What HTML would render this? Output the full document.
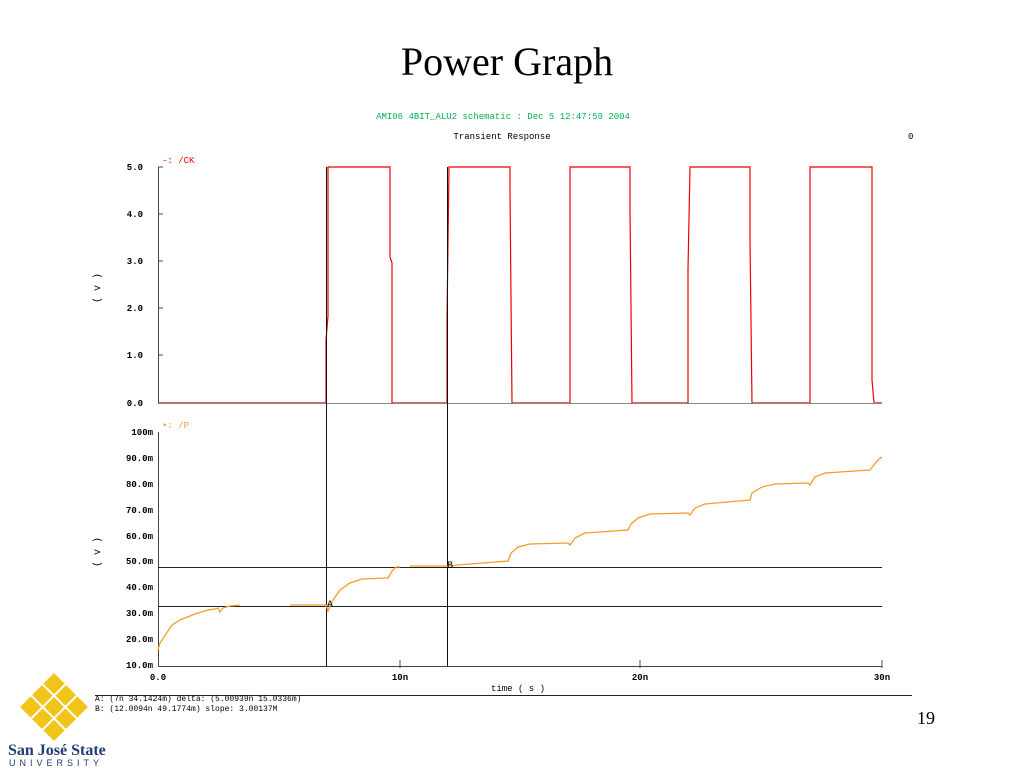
<!DOCTYPE html>
<html><head><meta charset="utf-8"><style>
html,body{margin:0;padding:0;background:#fff;width:1024px;height:768px;overflow:hidden}
</style></head><body>
<svg width="1024" height="768" viewBox="0 0 1024 768" xmlns="http://www.w3.org/2000/svg" font-family="Liberation Mono, monospace">
<text x="507" y="75" text-anchor="middle" font-family="Liberation Serif, serif" font-size="40">Power Graph</text>
<text x="503" y="119" text-anchor="middle" font-size="9" fill="#00b050">AMI06 4BIT_ALU2 schematic : Dec  5 12:47:59 2004</text>
<text x="502" y="139" text-anchor="middle" font-size="9">Transient Response</text>
<text x="908" y="139" font-size="9">0</text>
<!-- top plot -->
<g font-size="9" font-weight="bold" text-anchor="end">
<text x="143" y="170">5.0</text><text x="143" y="217">4.0</text><text x="143" y="264">3.0</text>
<text x="143" y="311">2.0</text><text x="143" y="358">1.0</text><text x="143" y="406">0.0</text>
</g>
<text x="162" y="163" font-size="9" fill="#e00">-: /CK</text>
<text x="100" y="288" font-size="10" transform="rotate(-90 100 288)" text-anchor="middle">( v )</text>
<line x1="158.5" y1="167" x2="158.5" y2="403" stroke="#444"/>
<g stroke="#444"><line x1="158" y1="167" x2="163" y2="167"/><line x1="158" y1="214" x2="163" y2="214"/><line x1="158" y1="261" x2="163" y2="261"/><line x1="158" y1="308" x2="163" y2="308"/><line x1="158" y1="355" x2="163" y2="355"/></g>
<polyline fill="none" stroke="#e00" stroke-width="1.2" points="158,403 326,403 326,340 328,316 328,167 390,167 390,257 392,263 392,403 447,403 447,320 449,167 510,167 510,190 512,403 570,403 570,167 630,167 630,210 632,403 688,403 688,270 690,167 750,167 750,240 752,403 810,403 810,167 872,167 872,380 874,403 882,403"/>
<!-- bottom plot -->
<g font-size="9" font-weight="bold" text-anchor="end">
<text x="153" y="435">100m</text><text x="153" y="461">90.0m</text><text x="153" y="487">80.0m</text>
<text x="153" y="513">70.0m</text><text x="153" y="539">60.0m</text><text x="153" y="564">50.0m</text>
<text x="153" y="590">40.0m</text><text x="153" y="616">30.0m</text><text x="153" y="642">20.0m</text><text x="153" y="668">10.0m</text>
</g>
<text x="162" y="428" font-size="9" fill="#f39c2a">•: /P</text>
<text x="100" y="552" font-size="10" transform="rotate(-90 100 552)" text-anchor="middle">( v )</text>
<line x1="158.5" y1="432" x2="158.5" y2="666" stroke="#444"/>
<line x1="158" y1="666.5" x2="882" y2="666.5" stroke="#444"/>
<line x1="158" y1="403.5" x2="882" y2="403.5" stroke="#888"/>
<g stroke="#444">
<line x1="400" y1="660" x2="400" y2="668"/><line x1="640" y1="660" x2="640" y2="668"/><line x1="882" y1="660" x2="882" y2="668"/>
</g>
<g font-size="9" font-weight="bold" text-anchor="middle">
<text x="158" y="680">0.0</text><text x="400" y="680">10n</text><text x="640" y="680">20n</text><text x="882" y="680">30n</text>
</g>
<text x="518" y="691" font-size="9" text-anchor="middle">time ( s )</text>
<line x1="158" y1="567.5" x2="882" y2="567.5" stroke="#222"/>
<line x1="158" y1="606.5" x2="882" y2="606.5" stroke="#222"/>
<line x1="326.5" y1="167" x2="326.5" y2="666" stroke="#111"/>
<line x1="447.5" y1="167" x2="447.5" y2="666" stroke="#111"/>
<polyline fill="none" stroke="#f39c2a" stroke-width="1.3" points="158,650 160,643 166,634 172,625 180,620 195,614 208,610 215,609 218,608 220,612 223,608 230,606 240,605"/>
<polyline fill="none" stroke="#f39c2a" stroke-width="1.3" points="290,605 326,605 328,611 333,600 340,590 350,583 362,579 388,578 392,571 396,567 400,567"/>
<polyline fill="none" stroke="#f39c2a" stroke-width="1.3" points="410,566 447,566 470,564 508,561 511,553 518,547 530,544 568,543 570,545 575,538 585,533 628,530 631,524 638,518 650,514 688,513 690,515 695,508 705,504 750,500 752,493 762,487 775,484 808,483 810,485 815,477 825,473 870,470 873,466 878,460 882,457"/>
<text x="327" y="607" font-size="10">A</text>
<text x="447" y="568" font-size="10">B</text>
<line x1="95" y1="695.5" x2="912" y2="695.5" stroke="#222"/>
<text x="95" y="701" font-size="8">A: (7n 34.1424m)   delta: (5.00939n 15.0336m)</text>
<text x="95" y="711" font-size="8">B: (12.0094n 49.1774m)      slope: 3.00137M</text>
<text x="935" y="724" text-anchor="end" font-family="Liberation Serif, serif" font-size="18">19</text>
<!-- logo -->
<g transform="translate(54,707) rotate(45)" fill="#f2c318">
<rect x="-24" y="-24" width="48" height="48"/>
</g>
<g transform="translate(54,707) rotate(45)" fill="#fff">
<rect x="-24" y="-9" width="48" height="2"/><rect x="-24" y="7" width="48" height="2"/>
<rect x="-9" y="-24" width="2" height="48"/><rect x="7" y="-24" width="2" height="48"/>
</g>
<text x="8" y="755" font-family="Liberation Serif, serif" font-weight="bold" font-size="16" fill="#1f3b7a">San José State</text>
<text x="9" y="766" font-family="Liberation Sans, sans-serif" font-size="9" letter-spacing="4" fill="#1f3b7a">UNIVERSITY</text>
</svg>
</body></html>
